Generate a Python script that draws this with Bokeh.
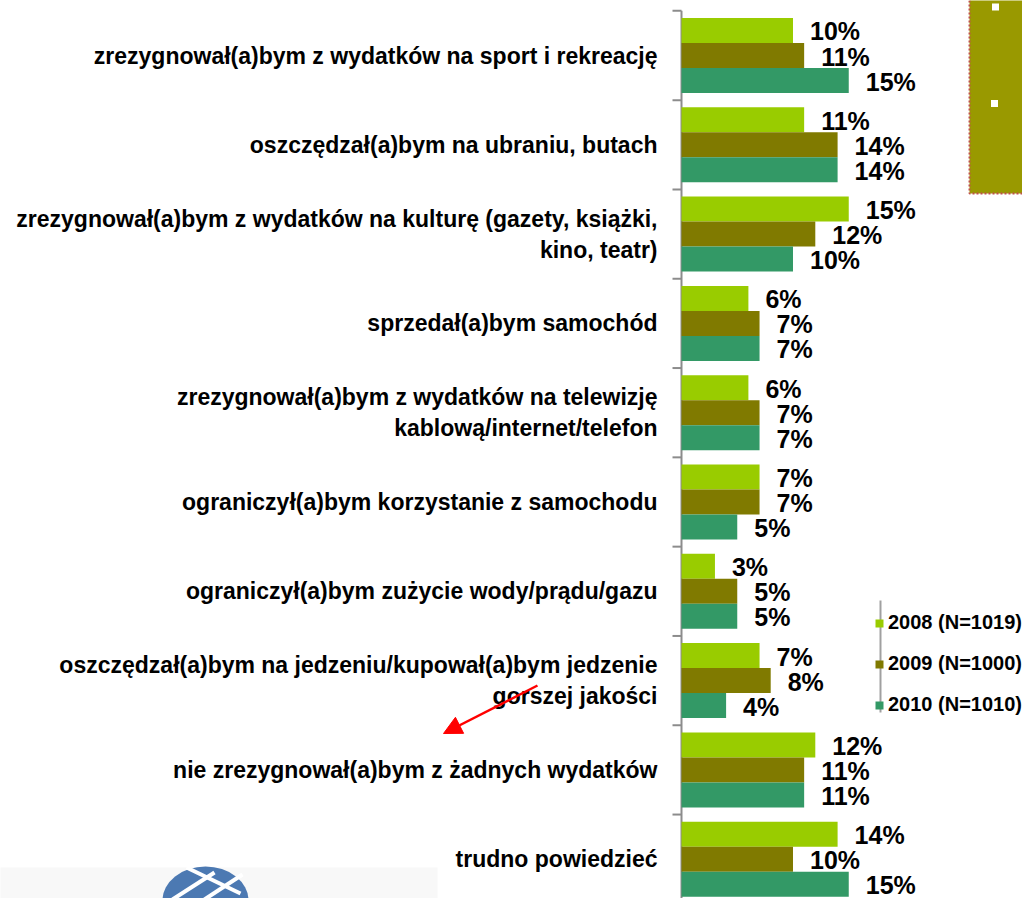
from bokeh.plotting import figure
from bokeh.models import (ColumnDataSource, Range1d, Legend, LegendItem, Arrow,
                          NormalHead)
from bokeh.core.properties import value
from bokeh.embed import file_html
from bokeh.resources import INLINE

# ---------------- data ----------------
categories = [
    "zrezygnował(a)bym z wydatków na sport i rekreację",
    "oszczędzał(a)bym na ubraniu, butach",
    "zrezygnował(a)bym z wydatków na kulturę (gazety, książki,\nkino, teatr)",
    "sprzedał(a)bym samochód",
    "zrezygnował(a)bym z wydatków na telewizję\nkablową/internet/telefon",
    "ograniczył(a)bym korzystanie z samochodu",
    "ograniczył(a)bym zużycie wody/prądu/gazu",
    "oszczędzał(a)bym na jedzeniu/kupował(a)bym jedzenie\ngorszej jakości",
    "nie zrezygnował(a)bym z żadnych wydatków",
    "trudno powiedzieć",
]
series_names = ["2008 (N=1019)", "2009 (N=1000)", "2010 (N=1010)"]
v2008 = [10, 11, 15, 6, 6, 7, 3, 7, 12, 14]
v2009 = [11, 14, 12, 7, 7, 7, 5, 8, 11, 10]
v2010 = [15, 14, 10, 7, 7, 5, 5, 4, 11, 15]
series_values = [v2008, v2009, v2010]
colors = ["#99CC00", "#807A00", "#339966"]

# ---------------- layout helpers ----------------
W, H = 1022, 898
X0_PX = 681.0        # pixel of x = 0
PX_PER_PCT = 11.15
BAND_PX = 89.3
TOP_OFF = 55.0 / BAND_PX   # band units above category 0 centre

def px_x(px):
    return (px - X0_PX) / PX_PER_PCT

def px_y(px):
    return -TOP_OFF + px / BAND_PX

FONT = value("Liberation Sans")

p = figure(width=W, height=H, output_backend="svg", toolbar_location=None,
           x_range=Range1d(px_x(0), px_x(W)),
           y_range=Range1d(px_y(H), px_y(0)),
           min_border=0, outline_line_color=None)
p.axis.visible = False
p.grid.visible = False
p.background_fill_color = "white"
p.border_fill_color = "white"

idx = list(range(len(categories)))

# logo area (bottom left)
p.quad(left=[px_x(-2)], right=[px_x(437)], top=[px_y(867)], bottom=[px_y(905)],
       fill_color="#F8F8F8", line_color=None)
p.ellipse(x=[px_x(205)], y=[px_y(900)], width=86 / PX_PER_PCT, height=68 / BAND_PX,
          fill_color="#4C79B2", line_color=None)
p.multi_line(xs=[[px_x(186), px_x(240)], [px_x(172), px_x(214)], [px_x(204), px_x(242)]],
             ys=[[px_y(867), px_y(893)], [px_y(899), px_y(872)], [px_y(899), px_y(874)]],
             line_color="white", line_width=4)

# top-right olive box
p.quad(left=[px_x(969)], right=[px_x(1040)], top=[px_y(-10)], bottom=[px_y(193)],
       fill_color="#999900", line_color="#C0504D", line_dash="2 2", line_width=2)
p.scatter(x=[px_x(995), px_x(994)], y=[px_y(6.5), px_y(103)], marker="square",
          size=7, fill_color="white", line_color=None)

# axis line and ticks
p.segment(x0=[0], x1=[0], y0=[-0.5], y1=[len(categories)], line_color="#8C8C8C",
          line_width=2)
tick_y = [i - 0.5 for i in range(len(categories) + 1)]
p.segment(x0=[px_x(X0_PX - 9)] * len(tick_y), x1=[0] * len(tick_y),
          y0=tick_y, y1=tick_y, line_color="#8C8C8C", line_width=2)

# bars
offsets = [-0.28, 0.0, 0.28]
bar_h = 0.28
items = []
for name, vals, col, off in zip(series_names, series_values, colors, offsets):
    src = ColumnDataSource(dict(
        y=[i + off for i in idx],
        right=vals,
        label=[f"{v}%" for v in vals],
    ))
    r = p.hbar(y="y", left=0, right="right", height=bar_h, source=src,
               fill_color=col, line_color=None)
    p.text(x="right", y="y", text="label", source=src, x_offset=17, y_offset=1,
           text_align="left", text_baseline="middle", text_font=FONT,
           text_font_style="bold", text_font_size="25px", text_color="black")
    items.append(LegendItem(label=name, renderers=[r]))

# category labels
p.text(x=[px_x(657)] * len(categories), y=idx, text=categories,
       text_align="right", text_baseline="middle", text_font=FONT,
       text_font_style="bold", text_font_size="23px", text_color="black",
       text_line_height=1.2)

# legend vertical grey line
p.segment(x0=[px_x(880)], x1=[px_x(880)], y0=[px_y(600)], y1=[px_y(712)],
          line_color="#A0A0A0", line_width=2)

legend = Legend(items=items, location=(874, H - 716), orientation="vertical",
                padding=0, margin=0, spacing=18, glyph_width=10, glyph_height=10,
                label_height=20, label_standoff=4,
                label_text_font="Liberation Sans", label_text_font_style="bold",
                label_text_font_size="20px", label_text_color="black",
                background_fill_alpha=0, border_line_alpha=0)
p.add_layout(legend)

# red arrow
p.add_layout(Arrow(end=NormalHead(size=18, fill_color="#FF0000", line_color="#FF0000"),
                   x_start=px_x(537), y_start=px_y(685),
                   x_end=px_x(443), y_end=px_y(733),
                   line_color="#FF0000", line_width=2.5))

open("out.html", "w").write(file_html(p, INLINE))
